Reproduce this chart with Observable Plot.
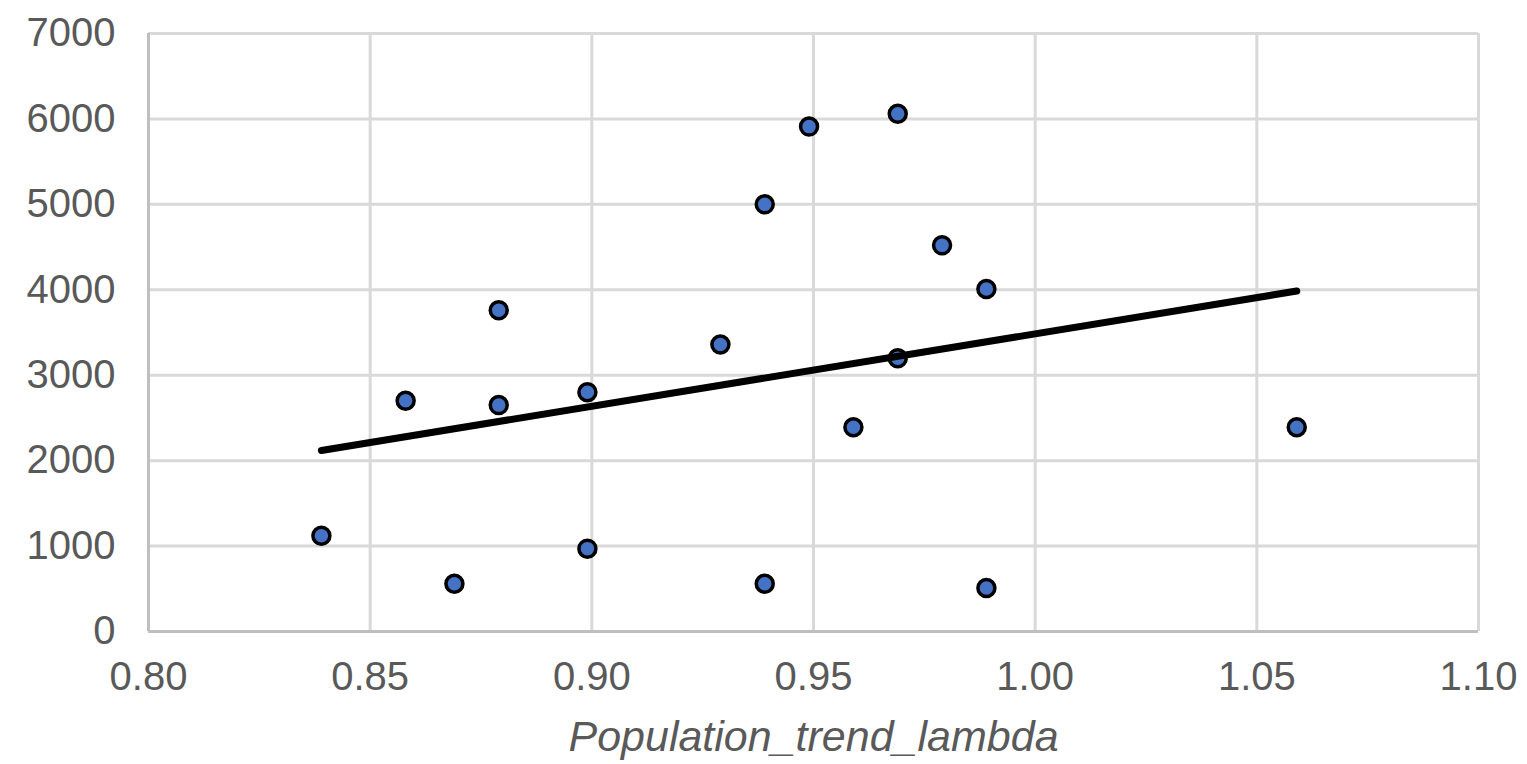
<!DOCTYPE html>
<html>
<head>
<meta charset="utf-8">
<script src="https://cdn.jsdelivr.net/npm/d3@7"></script>
<script src="https://cdn.jsdelivr.net/npm/@observablehq/plot@0.6"></script>
<style>
  html, body { margin: 0; padding: 0; background: #fff; }
  #chart svg { font-family: "Liberation Sans", Arial, sans-serif; }
</style>
</head>
<body>
<div id="chart"></div>
<script>
const lambda = [0.839, 0.858, 0.869, 0.879, 0.879, 0.899, 0.899, 0.929, 0.939, 0.939, 0.949, 0.959, 0.969, 0.969, 0.979, 0.989, 0.989, 1.059];
const values = [1120, 2700, 560, 3760, 2650, 2800, 970, 3360, 5000, 560, 5910, 2390, 6060, 3200, 4520, 4010, 510, 2390];
const xTicks = [0.80, 0.85, 0.90, 0.95, 1.00, 1.05, 1.10];
const yTicks = [0, 1000, 2000, 3000, 4000, 5000, 6000, 7000];
const xTitle = "Population_trend_lambda";

const data = lambda.map((x, i) => ({x, y: values[i]}));

const chart = Plot.plot({
  width: 1527,
  height: 764,
  marginLeft: 148,
  marginRight: 49,
  marginTop: 33,
  marginBottom: 133,
  style: {fontFamily: "Liberation Sans, Arial, sans-serif", fontSize: "40px", color: "#595959", background: "#fff"},
  x: {domain: [0.80, 1.10]},
  y: {domain: [0, 7000]},
  marks: [
    Plot.gridX(xTicks, {stroke: "#d9d9d9", strokeOpacity: 1, strokeWidth: 3}),
    Plot.gridY(yTicks, {stroke: "#d9d9d9", strokeOpacity: 1, strokeWidth: 3}),
    Plot.ruleX([0.80], {stroke: "#bfbfbf", strokeWidth: 3}),
    Plot.ruleY([0], {stroke: "#bfbfbf", strokeWidth: 3}),
    Plot.axisX(xTicks, {tickSize: 0, tickPadding: 30, tickFormat: d3.format(".2f"), label: null, fill: "#595959", fontSize: 40}),
    Plot.axisY(yTicks, {tickSize: 0, tickPadding: 33, tickFormat: d => String(d), label: null, fill: "#595959", fontSize: 40}),
    Plot.dot(data, {x: "x", y: "y", r: 8.5, fill: "#4472c4", stroke: "black", strokeWidth: 3.5}),
    Plot.linearRegressionY(data, {x: "x", y: "y", stroke: "black", strokeWidth: 7, ci: 0}),
    Plot.text([xTitle], {frameAnchor: "bottom", lineAnchor: "middle", dy: 106, fontStyle: "italic", fontSize: 43, fill: "#595959"})
  ]
});
document.getElementById("chart").appendChild(chart);
</script>
</body>
</html>
